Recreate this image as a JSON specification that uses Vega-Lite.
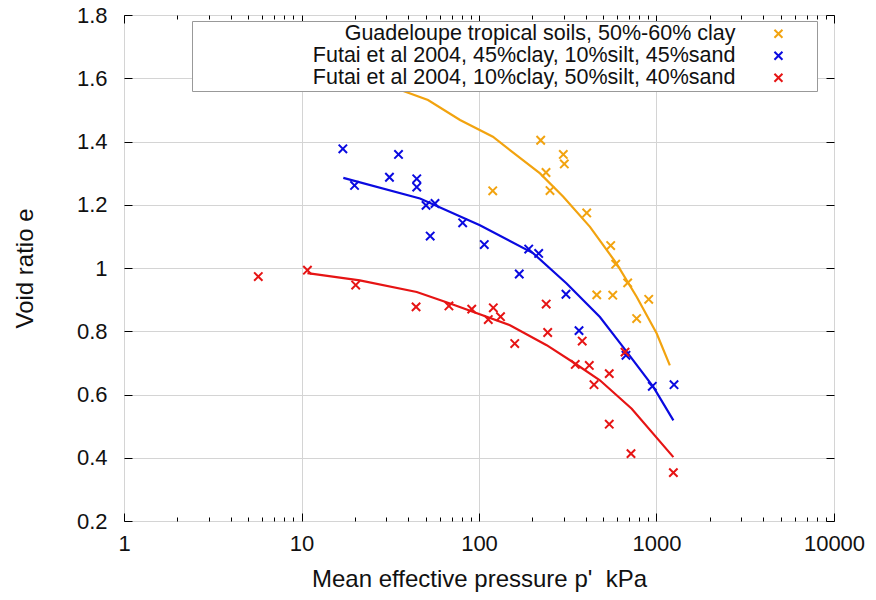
{
  "$schema": "https://vega.github.io/schema/vega-lite/v6.json",
  "width": 710,
  "height": 506,
  "autosize": {"type": "none"},
  "padding": {"left": 124, "top": 15, "right": 42, "bottom": 79},
  "background": "white",
  "config": {
    "font": "Liberation Sans",
    "view": {"stroke": "#000000", "strokeWidth": 1},
    "axis": {"labelFont": "Liberation Sans", "titleFont": "Liberation Sans", "labelColor": "#111", "titleColor": "#111", "titleFontWeight": "normal", "labelFontSize": 22, "titleFontSize": 24, "tickColor": "#000", "domain": false}
  },
  "datasets": {
    "pts": [
      {"p": 222.6, "e": 1.404, "series": "Guadeloupe tropical soils, 50%-60% clay"},
      {"p": 298.5, "e": 1.359, "series": "Guadeloupe tropical soils, 50%-60% clay"},
      {"p": 302.5, "e": 1.329, "series": "Guadeloupe tropical soils, 50%-60% clay"},
      {"p": 238.5, "e": 1.302, "series": "Guadeloupe tropical soils, 50%-60% clay"},
      {"p": 119.5, "e": 1.244, "series": "Guadeloupe tropical soils, 50%-60% clay"},
      {"p": 251.2, "e": 1.245, "series": "Guadeloupe tropical soils, 50%-60% clay"},
      {"p": 404.5, "e": 1.174, "series": "Guadeloupe tropical soils, 50%-60% clay"},
      {"p": 552, "e": 1.071, "series": "Guadeloupe tropical soils, 50%-60% clay"},
      {"p": 589, "e": 1.012, "series": "Guadeloupe tropical soils, 50%-60% clay"},
      {"p": 688, "e": 0.953, "series": "Guadeloupe tropical soils, 50%-60% clay"},
      {"p": 460.6, "e": 0.915, "series": "Guadeloupe tropical soils, 50%-60% clay"},
      {"p": 567, "e": 0.914, "series": "Guadeloupe tropical soils, 50%-60% clay"},
      {"p": 904, "e": 0.901, "series": "Guadeloupe tropical soils, 50%-60% clay"},
      {"p": 773, "e": 0.840, "series": "Guadeloupe tropical soils, 50%-60% clay"},
      {"p": 17.1, "e": 1.377, "series": "Futai et al 2004, 45%clay, 10%silt, 45%sand"},
      {"p": 35.2, "e": 1.359, "series": "Futai et al 2004, 45%clay, 10%silt, 45%sand"},
      {"p": 31.3, "e": 1.287, "series": "Futai et al 2004, 45%clay, 10%silt, 45%sand"},
      {"p": 19.9, "e": 1.261, "series": "Futai et al 2004, 45%clay, 10%silt, 45%sand"},
      {"p": 44.6, "e": 1.282, "series": "Futai et al 2004, 45%clay, 10%silt, 45%sand"},
      {"p": 44.6, "e": 1.256, "series": "Futai et al 2004, 45%clay, 10%silt, 45%sand"},
      {"p": 50.3, "e": 1.198, "series": "Futai et al 2004, 45%clay, 10%silt, 45%sand"},
      {"p": 56.5, "e": 1.204, "series": "Futai et al 2004, 45%clay, 10%silt, 45%sand"},
      {"p": 80.9, "e": 1.143, "series": "Futai et al 2004, 45%clay, 10%silt, 45%sand"},
      {"p": 53.1, "e": 1.101, "series": "Futai et al 2004, 45%clay, 10%silt, 45%sand"},
      {"p": 107.1, "e": 1.074, "series": "Futai et al 2004, 45%clay, 10%silt, 45%sand"},
      {"p": 190.6, "e": 1.060, "series": "Futai et al 2004, 45%clay, 10%silt, 45%sand"},
      {"p": 216.9, "e": 1.046, "series": "Futai et al 2004, 45%clay, 10%silt, 45%sand"},
      {"p": 168.6, "e": 0.981, "series": "Futai et al 2004, 45%clay, 10%silt, 45%sand"},
      {"p": 309, "e": 0.917, "series": "Futai et al 2004, 45%clay, 10%silt, 45%sand"},
      {"p": 366, "e": 0.802, "series": "Futai et al 2004, 45%clay, 10%silt, 45%sand"},
      {"p": 673, "e": 0.724, "series": "Futai et al 2004, 45%clay, 10%silt, 45%sand"},
      {"p": 947, "e": 0.626, "series": "Futai et al 2004, 45%clay, 10%silt, 45%sand"},
      {"p": 1255, "e": 0.631, "series": "Futai et al 2004, 45%clay, 10%silt, 45%sand"},
      {"p": 5.71, "e": 0.973, "series": "Futai et al 2004, 10%clay, 50%silt, 40%sand"},
      {"p": 10.8, "e": 0.993, "series": "Futai et al 2004, 10%clay, 50%silt, 40%sand"},
      {"p": 20.2, "e": 0.946, "series": "Futai et al 2004, 10%clay, 50%silt, 40%sand"},
      {"p": 44.2, "e": 0.877, "series": "Futai et al 2004, 10%clay, 50%silt, 40%sand"},
      {"p": 67.7, "e": 0.880, "series": "Futai et al 2004, 10%clay, 50%silt, 40%sand"},
      {"p": 91.0, "e": 0.870, "series": "Futai et al 2004, 10%clay, 50%silt, 40%sand"},
      {"p": 120.4, "e": 0.874, "series": "Futai et al 2004, 10%clay, 50%silt, 40%sand"},
      {"p": 112.8, "e": 0.837, "series": "Futai et al 2004, 10%clay, 50%silt, 40%sand"},
      {"p": 132.2, "e": 0.846, "series": "Futai et al 2004, 10%clay, 50%silt, 40%sand"},
      {"p": 239.1, "e": 0.886, "series": "Futai et al 2004, 10%clay, 50%silt, 40%sand"},
      {"p": 243.8, "e": 0.796, "series": "Futai et al 2004, 10%clay, 50%silt, 40%sand"},
      {"p": 159.0, "e": 0.761, "series": "Futai et al 2004, 10%clay, 50%silt, 40%sand"},
      {"p": 381.5, "e": 0.769, "series": "Futai et al 2004, 10%clay, 50%silt, 40%sand"},
      {"p": 348.6, "e": 0.695, "series": "Futai et al 2004, 10%clay, 50%silt, 40%sand"},
      {"p": 418.2, "e": 0.692, "series": "Futai et al 2004, 10%clay, 50%silt, 40%sand"},
      {"p": 444.5, "e": 0.631, "series": "Futai et al 2004, 10%clay, 50%silt, 40%sand"},
      {"p": 541.8, "e": 0.666, "series": "Futai et al 2004, 10%clay, 50%silt, 40%sand"},
      {"p": 664.8, "e": 0.734, "series": "Futai et al 2004, 10%clay, 50%silt, 40%sand"},
      {"p": 541.8, "e": 0.506, "series": "Futai et al 2004, 10%clay, 50%silt, 40%sand"},
      {"p": 718.3, "e": 0.413, "series": "Futai et al 2004, 10%clay, 50%silt, 40%sand"},
      {"p": 1244.7, "e": 0.353, "series": "Futai et al 2004, 10%clay, 50%silt, 40%sand"}
    ],
    "fit": [
      {"p": 20.5, "e": 1.63, "series": "Guadeloupe tropical soils, 50%-60% clay"},
      {"p": 33.7, "e": 1.569, "series": "Guadeloupe tropical soils, 50%-60% clay"},
      {"p": 51.6, "e": 1.531, "series": "Guadeloupe tropical soils, 50%-60% clay"},
      {"p": 78.2, "e": 1.468, "series": "Guadeloupe tropical soils, 50%-60% clay"},
      {"p": 119.7, "e": 1.415, "series": "Guadeloupe tropical soils, 50%-60% clay"},
      {"p": 220.7, "e": 1.299, "series": "Guadeloupe tropical soils, 50%-60% clay"},
      {"p": 298.5, "e": 1.225, "series": "Guadeloupe tropical soils, 50%-60% clay"},
      {"p": 421.9, "e": 1.130, "series": "Guadeloupe tropical soils, 50%-60% clay"},
      {"p": 596, "e": 1.014, "series": "Guadeloupe tropical soils, 50%-60% clay"},
      {"p": 772.7, "e": 0.909, "series": "Guadeloupe tropical soils, 50%-60% clay"},
      {"p": 1002.8, "e": 0.793, "series": "Guadeloupe tropical soils, 50%-60% clay"},
      {"p": 1189, "e": 0.692, "series": "Guadeloupe tropical soils, 50%-60% clay"},
      {"p": 17.2, "e": 1.285, "series": "Futai et al 2004, 45%clay, 10%silt, 45%sand"},
      {"p": 46.5, "e": 1.220, "series": "Futai et al 2004, 45%clay, 10%silt, 45%sand"},
      {"p": 101.2, "e": 1.135, "series": "Futai et al 2004, 45%clay, 10%silt, 45%sand"},
      {"p": 201.6, "e": 1.047, "series": "Futai et al 2004, 45%clay, 10%silt, 45%sand"},
      {"p": 311.6, "e": 0.951, "series": "Futai et al 2004, 45%clay, 10%silt, 45%sand"},
      {"p": 480, "e": 0.845, "series": "Futai et al 2004, 45%clay, 10%silt, 45%sand"},
      {"p": 649, "e": 0.750, "series": "Futai et al 2004, 45%clay, 10%silt, 45%sand"},
      {"p": 959.5, "e": 0.624, "series": "Futai et al 2004, 45%clay, 10%silt, 45%sand"},
      {"p": 1244.7, "e": 0.518, "series": "Futai et al 2004, 45%clay, 10%silt, 45%sand"},
      {"p": 10.8, "e": 0.984, "series": "Futai et al 2004, 10%clay, 50%silt, 40%sand"},
      {"p": 21.3, "e": 0.961, "series": "Futai et al 2004, 10%clay, 50%silt, 40%sand"},
      {"p": 44.6, "e": 0.924, "series": "Futai et al 2004, 10%clay, 50%silt, 40%sand"},
      {"p": 68.7, "e": 0.888, "series": "Futai et al 2004, 10%clay, 50%silt, 40%sand"},
      {"p": 149.5, "e": 0.819, "series": "Futai et al 2004, 10%clay, 50%silt, 40%sand"},
      {"p": 240.6, "e": 0.756, "series": "Futai et al 2004, 10%clay, 50%silt, 40%sand"},
      {"p": 347.6, "e": 0.698, "series": "Futai et al 2004, 10%clay, 50%silt, 40%sand"},
      {"p": 480, "e": 0.645, "series": "Futai et al 2004, 10%clay, 50%silt, 40%sand"},
      {"p": 725, "e": 0.555, "series": "Futai et al 2004, 10%clay, 50%silt, 40%sand"},
      {"p": 1244.7, "e": 0.402, "series": "Futai et al 2004, 10%clay, 50%silt, 40%sand"}
    ]
  },
  "layer": [
    {
      "data": {"name": "fit"},
      "mark": {"type": "line", "strokeWidth": 2.2, "clip": true},
      "encoding": {
        "x": {"field": "p", "type": "quantitative", "scale": {"type": "log", "domain": [1, 10000]},
          "axis": {"orient": "top", "labels": false, "title": null, "grid": false,
            "values": [1,2,3,4,5,6,7,8,9,10,20,30,40,50,60,70,80,90,100,200,300,400,500,600,700,800,900,1000,2000,3000,4000,5000,6000,7000,8000,9000,10000],
            "tickSize": {"condition": {"test": "indexof([1,10,100,1000,10000], datum.value) >= 0", "value": -8}, "value": -4}}},
        "y": {"field": "e", "type": "quantitative", "scale": {"domain": [0.2, 1.8], "nice": false, "zero": false},
          "axis": {"orient": "right", "labels": false, "title": null, "grid": false, "values": [0.2,0.4,0.6,0.8,1,1.2,1.4,1.6,1.8], "tickSize": -8}},
        "color": {"field": "series", "type": "nominal", "legend": null,
          "scale": {"domain": ["Guadeloupe tropical soils, 50%-60% clay", "Futai et al 2004, 45%clay, 10%silt, 45%sand", "Futai et al 2004, 10%clay, 50%silt, 40%sand"], "range": ["#f2a30f", "#0a0ae0", "#e61414"]}}
      }
    },
    {
      "data": {"name": "pts"},
      "mark": {"type": "point", "shape": "M-1,-1L1,1M-1,1L1,-1", "filled": false, "strokeWidth": 2, "size": 70, "opacity": 1, "clip": true},
      "encoding": {
        "x": {"field": "p", "type": "quantitative", "scale": {"type": "log", "domain": [1, 10000]},
          "axis": {"orient": "bottom", "title": "Mean effective pressure p'\u00a0\u00a0kPa", "format": "~g", "titlePadding": 9,
            "values": [1,2,3,4,5,6,7,8,9,10,20,30,40,50,60,70,80,90,100,200,300,400,500,600,700,800,900,1000,2000,3000,4000,5000,6000,7000,8000,9000,10000],
            "labelExpr": "indexof([1,10,100,1000,10000], datum.value) >= 0 ? datum.label : ''",
            "labelPadding": 20, "labelFlush": false, "labelOverlap": false,
            "grid": true, "gridColor": "#d4d4d4",
            "gridOpacity": {"condition": {"test": "indexof([1,10,100,1000,10000], datum.value) >= 0", "value": 1}, "value": 0},
            "tickSize": {"condition": {"test": "indexof([1,10,100,1000,10000], datum.value) >= 0", "value": -8}, "value": -4}}},
        "y": {"field": "e", "type": "quantitative", "scale": {"domain": [0.2, 1.8], "nice": false, "zero": false},
          "axis": {"orient": "left", "title": "Void ratio e", "format": "~g", "titlePadding": 39,
            "values": [0.2,0.4,0.6,0.8,1,1.2,1.4,1.6,1.8], "labelPadding": 25, "labelFlush": false, "labelOverlap": false,
            "grid": true, "gridColor": "#d4d4d4", "tickSize": -8}},
        "color": {"field": "series", "type": "nominal",
          "scale": {"domain": ["Guadeloupe tropical soils, 50%-60% clay", "Futai et al 2004, 45%clay, 10%silt, 45%sand", "Futai et al 2004, 10%clay, 50%silt, 40%sand"], "range": ["#f2a30f", "#0a0ae0", "#e61414"]},
          "legend": {"title": "\u00a0\u00a0\u00a0\u00a0\u00a0", "titleOrient": "right", "titleFontSize": 21, "titlePadding": 29,
            "orient": "none", "legendX": 68, "legendY": 6,
            "labelAlign": "right", "labelOffset": -53.7, "symbolOffset": 573.7,
            "labelExpr": "'\u00a0\u00a0\u00a0\u00a0\u00a0\u00a0\u00a0\u00a0\u00a0\u00a0\u00a0\u00a0\u00a0\u00a0\u00a0' + datum.label",
            "labelFontSize": 21.5, "labelFont": "Liberation Sans", "labelColor": "#111", "labelLimit": 0,
            "symbolType": "M-1,-1L1,1M-1,1L1,-1", "symbolSize": 64, "symbolStrokeWidth": 2,
            "rowPadding": -1.5, "padding": 2, "fillColor": "white", "strokeColor": "#999"}}
      }
    }
  ],
  "resolve": {"axis": {"x": "independent", "y": "independent"}, "legend": {"color": "independent"}}
}
